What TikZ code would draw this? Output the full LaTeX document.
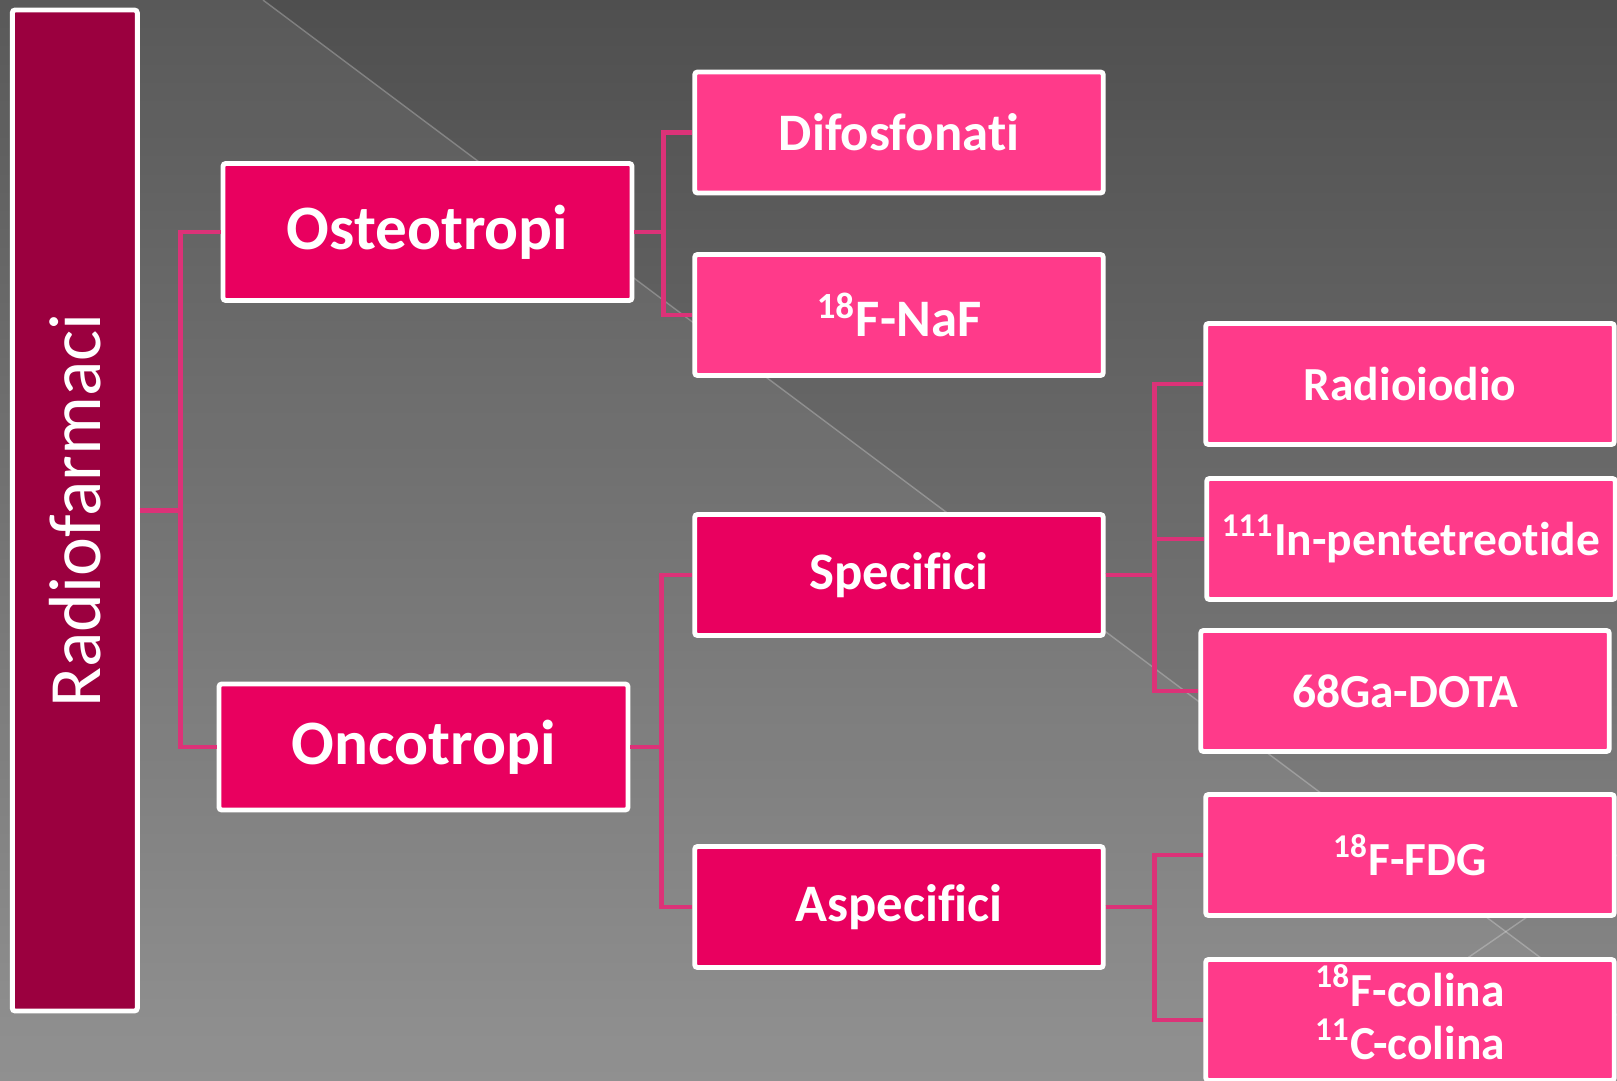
\documentclass[tikz,border=0pt]{standalone}
\usepackage{fontspec}
\setmainfont{Carlito}[Ligatures=NoCommon]
\definecolor{rootcol}{HTML}{9B003F}
\definecolor{lvlone}{HTML}{E9005F}
\definecolor{leafcol}{HTML}{FF3A8A}
\definecolor{linkcol}{HTML}{DC3278}
\definecolor{bgtop}{HTML}{4F4F4F}
\definecolor{bgbot}{HTML}{8A8A8A}

\begin{document}
\begin{tikzpicture}[x=0.1mm, y=-0.1mm,
  box/.style={draw=white, line width=1.4pt, rounded corners=0.8pt, text=white,
    align=center, inner sep=0pt, font=\fontsize{15}{15}\selectfont\bfseries},
  rootbox/.style={box, fill=rootcol, minimum width=12.5mm, minimum height=100.1mm,
    font=\fontsize{21}{21}\selectfont},
  topbox/.style={box, fill=lvlone, minimum width=40.9mm, font=\fontsize{18}{18}\selectfont\bfseries},
  midbox/.style={box, fill=lvlone, minimum width=40.85mm, minimum height=12.1mm},
  leafbox/.style={box, fill=leafcol, minimum width=40.85mm, minimum height=12.1mm},
  endbox/.style={leafbox, font=\fontsize{13.5}{15}\selectfont\bfseries},
  link/.style={draw=linkcol, line width=1.35pt}]
  \useasboundingbox (0,0) rectangle (1617,1081);
  \clip (0,0) rectangle (1617,1081);
  % background with the two faint diagonals
  \shade[top color=bgtop, bottom color=bgbot] (0,0) rectangle (1617,1081);
  \fill[white, opacity=0.06] (0,0) -- (263,0) -- (1617,1015) -- (1617,1081) -- (0,1081) -- cycle;
  \draw[white, opacity=0.25, line width=0.4pt] (263,0) -- (1617,1015);
  \draw[white, opacity=0.25, line width=0.4pt] (1289,1081) -- (1617,855);

  \node[rootbox] (rad) at (74.8,510.5) {\rotatebox{90}{Radiofarmaci}};
  \node[topbox, minimum height=13.7mm] (osteo) at (427.5,232) {Osteotropi};
  \node[topbox, minimum height=12.6mm] (onco) at (423.5,747) {Oncotropi};
  \node[leafbox] (difo) at (899,132.5) {Difosfonati};
  \node[leafbox] (naf) at (899,315) {\textsuperscript{18}F-NaF};
  \node[midbox] (spec) at (899,575) {Specifici};
  \node[midbox] (aspec) at (899,907) {Aspecifici};
  \node[endbox] (iodio) at (1410,384) {Radioiodio};
  \node[endbox] (indio) at (1411,539) {\textsuperscript{111}In-pentetreotide};
  \node[endbox] (gallio) at (1405,691) {68Ga-DOTA};
  \node[endbox] (fdg) at (1410,855) {\textsuperscript{18}F-FDG};
  \node[endbox, text depth=1.6mm] (colina) at (1410,1020) {\textsuperscript{18}F-colina\\\textsuperscript{11}C-colina};

  % elbow connectors
  \draw[link] (rad.east) -- ++(41,0) |- (osteo.west);
  \draw[link] (rad.east) -- ++(41,0) |- (onco.west);
  \draw[link] (osteo.east) -- ++(29,0) |- (difo.west);
  \draw[link] (osteo.east) -- ++(29,0) |- (naf.west);
  \draw[link] (onco.east) -- ++(31,0) |- (spec.west);
  \draw[link] (onco.east) -- ++(31,0) |- (aspec.west);
  \draw[link] (spec.east) -- ++(48.5,0) |- (iodio.west);
  \draw[link] (spec.east) -- ++(48.5,0) |- (indio.west);
  \draw[link] (spec.east) -- ++(48.5,0) |- (gallio.west);
  \draw[link] (aspec.east) -- ++(48.5,0) |- (fdg.west);
  \draw[link] (aspec.east) -- ++(48.5,0) |- (colina.west);
\end{tikzpicture}
\end{document}
